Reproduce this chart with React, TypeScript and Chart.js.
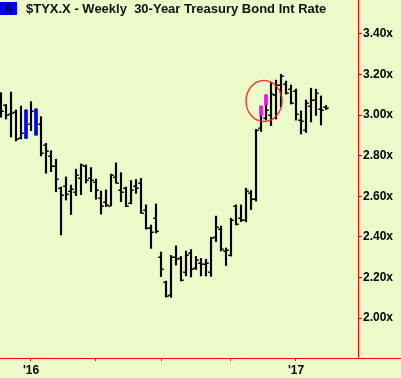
import React, { useEffect, useRef } from "react";
import { Chart, registerables } from "chart.js";

Chart.register(...registerables);

const TITLE = "$TYX.X - Weekly  30-Year Treasury Bond Int Rate";
const BADGE = "A";

// Weekly OHLC bars, oldest first (mid-Nov 2015 .. Feb 2017)
const opens = [
  3.049, 3.047, 3.007, 3.015, 2.887, 2.896, 2.956, 2.911, 2.956, 2.852,
  2.798, 2.749, 2.639, 2.650, 2.626, 2.621, 2.690, 2.749, 2.690, 2.670,
  2.591, 2.573, 2.552, 2.695, 2.631, 2.640, 2.567, 2.650, 2.665, 2.532,
  2.443, 2.493, 2.300, 2.177, 2.111, 2.300, 2.296, 2.227, 2.320, 2.246,
  2.271, 2.266, 2.229, 2.399, 2.438, 2.330, 2.310, 2.552, 2.493, 2.483,
  2.616, 2.584, 2.936, 2.985, 3.000, 3.099, 3.148, 3.153, 3.128, 3.118,
  2.975, 2.926, 3.044, 3.074, 3.030, 3.037,
];
const highs = [
  3.110, 3.052, 3.113, 3.025, 3.044, 3.025, 3.066, 3.030, 2.992, 2.860,
  2.824, 2.782, 2.645, 2.695, 2.655, 2.733, 2.759, 2.754, 2.741, 2.685,
  2.626, 2.631, 2.709, 2.764, 2.716, 2.645, 2.677, 2.682, 2.688, 2.557,
  2.458, 2.562, 2.325, 2.182, 2.308, 2.355, 2.303, 2.330, 2.337, 2.303,
  2.294, 2.289, 2.398, 2.502, 2.453, 2.345, 2.491, 2.557, 2.557, 2.640,
  2.628, 2.929, 3.044, 3.099, 3.160, 3.172, 3.200, 3.167, 3.148, 3.128,
  3.020, 3.074, 3.132, 3.127, 3.094, 3.047,
];
const lows = [
  2.989, 2.980, 2.892, 2.872, 2.882, 2.885, 2.923, 2.901, 2.798, 2.713,
  2.721, 2.622, 2.409, 2.581, 2.510, 2.603, 2.608, 2.665, 2.623, 2.585,
  2.512, 2.549, 2.552, 2.664, 2.573, 2.549, 2.562, 2.614, 2.516, 2.438,
  2.343, 2.419, 2.204, 2.103, 2.102, 2.261, 2.182, 2.207, 2.202, 2.239,
  2.207, 2.207, 2.205, 2.376, 2.330, 2.259, 2.305, 2.458, 2.475, 2.474,
  2.534, 2.576, 2.919, 2.975, 2.948, 2.980, 3.039, 3.103, 3.054, 2.975,
  2.906, 2.914, 2.966, 2.998, 2.951, 3.027,
];
const closes = [
  3.020, 3.000, 3.010, 2.882, 2.911, 3.015, 3.020, 3.020, 2.813, 2.823,
  2.750, 2.685, 2.606, 2.611, 2.635, 2.704, 2.754, 2.680, 2.680, 2.631,
  2.552, 2.557, 2.704, 2.665, 2.622, 2.552, 2.631, 2.640, 2.519, 2.443,
  2.424, 2.429, 2.241, 2.108, 2.300, 2.291, 2.187, 2.310, 2.241, 2.286,
  2.266, 2.271, 2.394, 2.448, 2.340, 2.337, 2.483, 2.463, 2.483, 2.626,
  2.586, 2.926, 3.025, 3.025, 3.103, 3.148, 3.190, 3.108, 3.059, 3.005,
  2.970, 3.059, 3.074, 3.108, 3.025, 3.034,
];

// coloured signal bars
const highlightBars = [5, 7, 52, 53];
const highlightTop = [3.025, 3.030, 3.044, 3.099];
const highlightBottom = [2.885, 2.901, 2.995, 3.049];
const highlightColors = ["#0000ff", "#0000ff", "#ff00ff", "#ff00ff"];

// axis ticks
const quarterTickIdx = [6, 19, 32, 46, 59];
const quarterTickLabels = ["'16", "", "", "", "'17"];
const yTickValues = [2.0, 2.2, 2.4, 2.6, 2.8, 3.0, 3.2, 3.4];

// annotation ellipse (data units)
const circleCenter = { idx: 52.6, value: 3.069 };
const circleRadius = { idx: 3.6, value: 0.101 };

const BG = "#EBFAC8";
const FONT = "'Liberation Sans', Arial, sans-serif";

function hiddenByHighlight(i: number, v: number) {
  const k = highlightBars.indexOf(i);
  if (k < 0) return false;
  return v >= highlightBottom[k] - 0.005 && v <= highlightTop[k] + 0.005;
}

const ohlcPlugin = {
  id: "ohlcExtras",
  afterDatasetsDraw(chart: any) {
    const { ctx, chartArea } = chart;
    const x = chart.scales.x;
    const y = chart.scales.y;
    ctx.save();
    ctx.beginPath();
    ctx.rect(chartArea.left, chartArea.top, chartArea.width, chartArea.height);
    ctx.clip();
    ctx.fillStyle = "#000";
    for (let i = 0; i < opens.length; i++) {
      const px = x.getPixelForValue(i);
      const yo = Math.round(y.getPixelForValue(opens[i]));
      const yc = Math.round(y.getPixelForValue(closes[i]));
      if (!hiddenByHighlight(i, opens[i])) ctx.fillRect(px - 2.75, yo - 0.5, 2, 1.5);
      if (!hiddenByHighlight(i, closes[i])) ctx.fillRect(px + 0.75, yc - 0.5, 2, 1.5);
    }
    // annotation ellipse
    const cx = x.getPixelForValue(circleCenter.idx);
    const cy = y.getPixelForValue(circleCenter.value);
    const rx = Math.abs(x.getPixelForValue(circleCenter.idx + circleRadius.idx) - cx);
    const ry = Math.abs(y.getPixelForValue(circleCenter.value + circleRadius.value) - cy);
    ctx.strokeStyle = "rgba(232,40,40,0.9)";
    ctx.lineWidth = 1.4;
    ctx.beginPath();
    ctx.ellipse(cx, cy, rx, ry, 0, 0, Math.PI * 2);
    ctx.stroke();
    ctx.restore();
  },
  afterDraw(chart: any) {
    const { ctx, chartArea, width } = chart;
    ctx.save();
    ctx.fillStyle = "#ff0000";
    ctx.fillRect(chartArea.right, Math.floor(chartArea.bottom), width - chartArea.right, 1);
    ctx.restore();
  },
};

export default function App() {
  const ref = useRef<HTMLCanvasElement>(null);

  useEffect(() => {
    const rangeData = lows.map((l, i) => ({ x: i, y: [l, highs[i]] }));
    const hiData = highlightBars.map((idx, k) => ({
      x: idx,
      y: [highlightBottom[k], highlightTop[k]],
    }));
    const chart = new Chart(ref.current as HTMLCanvasElement, {
      type: "bar",
      data: {
        datasets: [
          {
            data: hiData as any,
            backgroundColor: highlightColors,
            barThickness: 3,
            grouped: false,
            order: 0,
          } as any,
          {
            data: rangeData as any,
            backgroundColor: "#000000",
            barThickness: 1.5,
            grouped: false,
            order: 1,
          } as any,
        ],
      },
      options: {
        responsive: false,
        animation: false,
        events: [],
        layout: { padding: 0 },
        plugins: { legend: { display: false }, tooltip: { enabled: false }, title: { display: false } },
        scales: {
          x: {
            type: "linear",
            position: "bottom",
            min: -0.2,
            max: 71.4,
            offset: false,
            border: { color: "#ff0000", width: 1 },
            grid: {
              offset: false,
              drawOnChartArea: false,
              drawTicks: true,
              tickLength: 3,
              color: "#ff0000",
            },
            afterBuildTicks: (scale: any) => {
              scale.ticks = quarterTickIdx.map((v) => ({ value: v }));
            },
            afterFit: (scale: any) => {
              scale.height = 20;
              scale.paddingLeft = 0;
              scale.paddingRight = 0;
            },
            ticks: {
              autoSkip: false,
              maxRotation: 0,
              padding: 2,
              color: "#000",
              font: { family: FONT, size: 12, weight: "bold" },
              callback: (_v: any, index: number) => quarterTickLabels[index],
            },
          },
          y: {
            type: "linear",
            position: "right",
            min: 1.803,
            max: 3.5665,
            border: { color: "#ff0000", width: 1 },
            grid: { drawOnChartArea: false, drawTicks: true, tickLength: 4, color: "#ff0000" },
            afterBuildTicks: (scale: any) => {
              scale.ticks = yTickValues.map((v) => ({ value: v }));
            },
            afterFit: (scale: any) => {
              scale.width = 43;
              scale.paddingTop = 0;
              scale.paddingBottom = 0;
            },
            ticks: {
              padding: 1,
              color: "#000",
              font: { family: FONT, size: 12, weight: "bold" },
              callback: (v: any) => Number(v).toFixed(2) + "x",
            },
          },
        },
      } as any,
      plugins: [ohlcPlugin],
    });
    return () => chart.destroy();
  }, []);

  return (
    <div
      style={{
        position: "absolute",
        left: 0,
        top: 0,
        width: 401,
        height: 378,
        background: BG,
        overflow: "hidden",
      }}
    >
      <canvas ref={ref} width={401} height={378} style={{ display: "block", width: 401, height: 378 }} />
      <div
        style={{
          position: "absolute",
          left: 0,
          top: 2,
          width: 17,
          height: 13,
          background: "#0000ff",
          color: "#000",
          font: `bold 13px ${FONT}`,
          lineHeight: "13px",
          textAlign: "center",
        }}
      >
        {BADGE}
      </div>
      <div
        style={{
          position: "absolute",
          left: 26,
          top: 1,
          color: "#111",
          font: `bold 13px ${FONT}`,
          lineHeight: "15px",
          whiteSpace: "pre",
        }}
      >
        {TITLE}
      </div>
    </div>
  );
}
